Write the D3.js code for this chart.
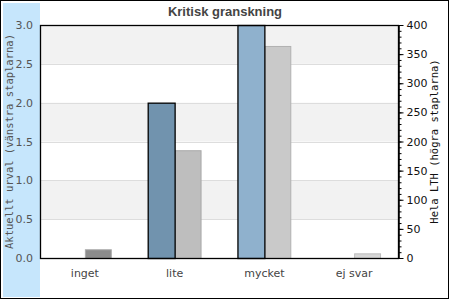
<!DOCTYPE html>
<html>
<head>
<meta charset="utf-8">
<script src="https://cdn.jsdelivr.net/npm/d3@7"></script>
<style>
  body { margin: 0; background: #fff; }
  svg { display: block; }
</style>
</head>
<body>
<svg id="chart" width="450" height="300"></svg>
<script>
const categories = ["inget", "lite", "mycket", "ej svar"];
const urvalValues = [0, 2, 3, 0];          // left scale
const lthValues = [15, 185, 364, 8];        // right scale
const urvalColors = ["#7193ae", "#7193ae", "#8fb1cd", "#8fb1cd"];
const lthColors = ["#8c8c8c", "#bebebe", "#c9c9c9", "#d6d6d6"];
const leftTicks = [0, 0.5, 1, 1.5, 2, 2.5, 3];
const rightTicks = [0, 50, 100, 150, 200, 250, 300, 350, 400];

const margin = { top: 25, right: 51, bottom: 42, left: 40 };
const W = 450, H = 300;
const iw = W - margin.left - margin.right;
const ih = H - margin.top - margin.bottom;

const svg = d3.select("#chart");

// outer frame + blue side panel
svg.append("rect")
  .attr("x", 0.5).attr("y", 0.5)
  .attr("width", 448).attr("height", 298)
  .attr("fill", "#fff").attr("stroke", "#000");
svg.append("rect")
  .attr("x", 3).attr("y", 3)
  .attr("width", 37).attr("height", 294)
  .attr("fill", "#c6e6fc");

const g = svg.append("g")
  .attr("transform", `translate(${margin.left},${margin.top})`);

const x = d3.scaleBand().domain(categories).range([0, iw]);
const yL = d3.scaleLinear().domain([0, 3]).range([ih, 0]);
const yR = d3.scaleLinear().domain([0, 400]).range([ih, 0]);

// alternating bands
const bands = d3.pairs(leftTicks).filter((d, i) => i % 2 === 1);
g.selectAll("rect.band")
  .data(bands)
  .enter().append("rect")
  .attr("class", "band")
  .attr("x", 0).attr("width", iw)
  .attr("y", d => yL(d[1]))
  .attr("height", d => yL(d[0]) - yL(d[1]))
  .attr("fill", "#f2f2f2");

g.selectAll("line.grid")
  .data(leftTicks.slice(1, -1))
  .enter().append("line")
  .attr("class", "grid")
  .attr("x1", 0).attr("x2", iw)
  .attr("y1", d => Math.round(yL(d)) + 0.5)
  .attr("y2", d => Math.round(yL(d)) + 0.5)
  .attr("stroke", "#dddddd");

const bw = x.bandwidth() * 0.3;

// Hela LTH bars (right)
g.selectAll("rect.lth")
  .data(categories)
  .enter().append("rect")
  .attr("class", "lth")
  .attr("x", d => x(d) + x.bandwidth() / 2 + 0.5)
  .attr("width", bw - 1)
  .attr("y", (d, i) => yR(lthValues[i]) + 0.5)
  .attr("height", (d, i) => ih - yR(lthValues[i]))
  .attr("fill", (d, i) => lthColors[i])
  .attr("stroke", (d, i) => d3.color(lthColors[i]).darker(0.35).brighter(i === 0 ? 0.9 : 0))
  .attr("stroke-width", 1);

// Aktuellt urval bars (left)
g.selectAll("rect.urval")
  .data(categories.filter((d, i) => urvalValues[i] > 0))
  .enter().append("rect")
  .attr("class", "urval")
  .attr("x", d => x(d) + x.bandwidth() / 2 - bw + 0.5)
  .attr("width", bw)
  .attr("y", d => yL(urvalValues[categories.indexOf(d)]) + 0.5)
  .attr("height", d => ih - yL(urvalValues[categories.indexOf(d)]))
  .attr("fill", d => urvalColors[categories.indexOf(d)])
  .attr("stroke", "#000")
  .attr("stroke-width", 1.3);

// plot frame
g.append("rect")
  .attr("x", 0.5).attr("y", 0.5)
  .attr("width", iw - 1).attr("height", ih)
  .attr("fill", "none").attr("stroke", "#000").attr("stroke-width", 1.3);

// left axis (labels only)
const axL = g.append("g")
  .call(d3.axisLeft(yL).tickValues(leftTicks).tickFormat(d3.format(".1f")).tickSize(0).tickPadding(7));
axL.select(".domain").remove();
axL.selectAll("text")
  .attr("font-family", "DejaVu Sans").attr("font-size", 11).attr("fill", "#555");

// right axis with minor ticks
const axR = g.append("g")
  .attr("transform", `translate(${iw - 0.5},0)`);
axR.append("g")
  .call(d3.axisRight(yR).ticks(40).tickFormat("").tickSize(3).tickSizeOuter(0));
axR.append("g")
  .call(d3.axisRight(yR).tickValues(rightTicks).tickSize(5).tickSizeOuter(0).tickPadding(3))
  .selectAll("text")
  .attr("font-family", "DejaVu Sans").attr("font-size", 11).attr("fill", "#111");
axR.selectAll(".domain").attr("stroke", "#000");
axR.selectAll("line").attr("stroke", "#000");

// x labels
g.selectAll("text.cat")
  .data(categories)
  .enter().append("text")
  .attr("class", "cat")
  .attr("x", d => x(d) + x.bandwidth() / 2)
  .attr("y", ih + 19)
  .attr("text-anchor", "middle")
  .attr("font-family", "DejaVu Sans").attr("font-size", 11)
  .attr("fill", "#444")
  .text(d => d);

// title
svg.append("text")
  .attr("x", 225).attr("y", 16)
  .attr("text-anchor", "middle")
  .attr("font-family", "Liberation Sans, Arial, sans-serif")
  .attr("font-weight", "bold").attr("font-size", 13)
  .attr("fill", "#444")
  .text("Kritisk granskning");

// axis titles
svg.append("text")
  .attr("transform", `translate(13,${margin.top + ih / 2}) rotate(-90)`)
  .attr("text-anchor", "middle")
  .attr("font-family", "DejaVu Sans Mono").attr("font-size", 10.5)
  .attr("fill", "#555")
  .text("Aktuellt urval (vänstra staplarna)");

svg.append("text")
  .attr("transform", `translate(438,${margin.top + ih / 2}) rotate(-90)`)
  .attr("text-anchor", "middle")
  .attr("font-family", "DejaVu Sans Mono").attr("font-size", 10.5)
  .attr("fill", "#111")
  .text("Hela LTH (högra staplarna)");
</script>
</body>
</html>
